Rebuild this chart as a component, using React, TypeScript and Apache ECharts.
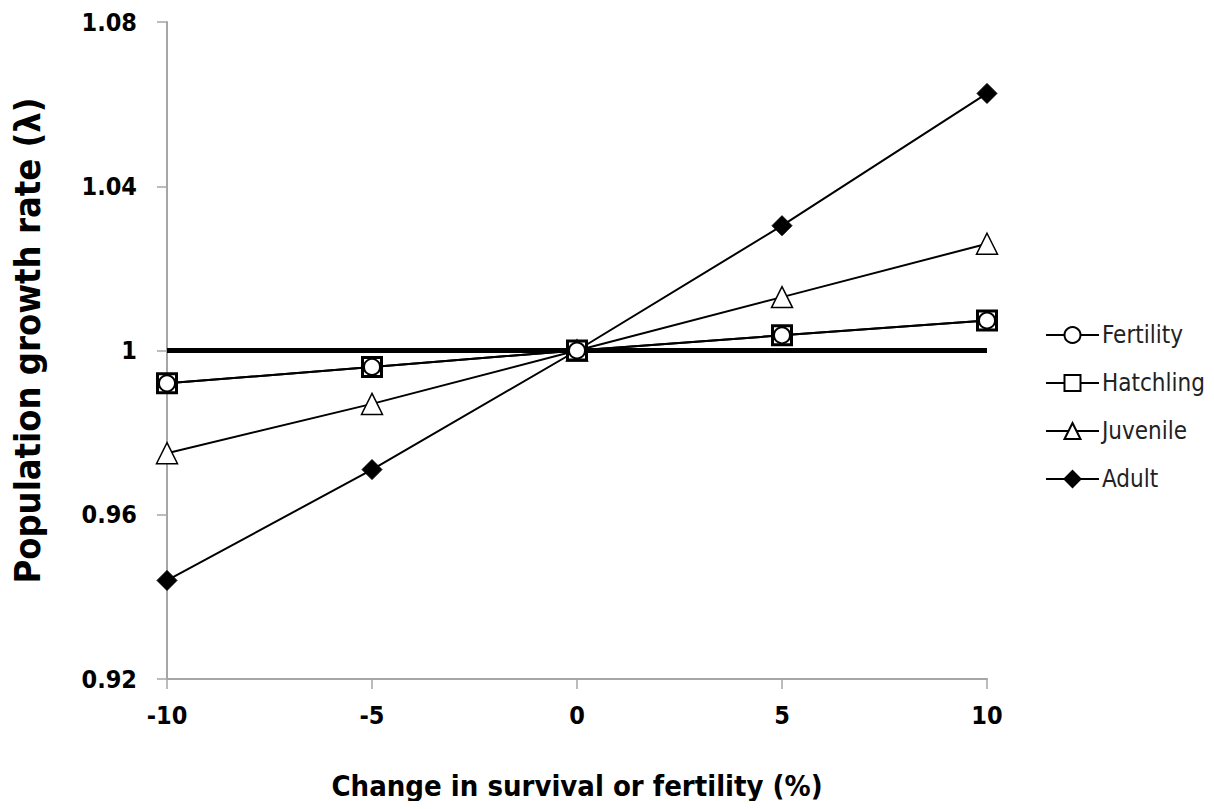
import React, { useEffect, useRef } from "react";
import * as echarts from "echarts";

const xValues = [-10, -5, 0, 5, 10];
const fertility = [0.992, 0.996, 1.0, 1.0037, 1.0073];
const hatchling = [0.992, 0.996, 1.0, 1.0037, 1.0073];
const juvenile = [0.975, 0.987, 1.0, 1.013, 1.026];
const adult = [0.944, 0.971, 1.0, 1.0304, 1.0626];
const refLine = [
  [-10, 1],
  [10, 1],
];

const FONT = "'DejaVu Sans Condensed', 'DejaVu Sans', sans-serif";

const pair = (ys: number[]) => xValues.map((x, i) => [x, ys[i]]);

export default function App() {
  const ref = useRef<HTMLDivElement>(null);
  useEffect(() => {
    if (!ref.current) return;
    const chart = echarts.init(ref.current, undefined, { renderer: "svg" });
    const common = {
      type: "line",
      lineStyle: { color: "#000", width: 2 },
      symbolSize: 20,
    };
    chart.setOption({
      animation: false,
      backgroundColor: "#fff",
      grid: { left: 167, right: 227, top: 22, bottom: 130 },
      xAxis: {
        type: "value",
        min: -10,
        max: 10,
        interval: 5,
        splitLine: { show: false },
        axisLine: { onZero: false, lineStyle: { color: "#a6a6a6", width: 2 } },
        axisTick: { show: true, length: 10, lineStyle: { color: "#a6a6a6", width: 1.5 } },
        axisLabel: { color: "#000", fontSize: 25, fontWeight: "bold", fontFamily: FONT, margin: 24 },
        name: "Change in survival or fertility (%)",
        nameLocation: "middle",
        nameGap: 92,
        nameTextStyle: { color: "#000", fontSize: 29, fontWeight: "bold", fontFamily: FONT },
      },
      yAxis: {
        type: "value",
        min: 0.92,
        max: 1.08,
        interval: 0.04,
        splitLine: { show: false },
        axisLine: { show: true, onZero: false, lineStyle: { color: "#a6a6a6", width: 2 } },
        axisTick: { show: true, length: 10, lineStyle: { color: "#a6a6a6", width: 1.5 } },
        axisLabel: {
          color: "#000",
          fontSize: 25,
          fontWeight: "bold",
          fontFamily: FONT,
          margin: 30,
          formatter: (v: number) => String(parseFloat(v.toFixed(2))),
        },
        name: "Population growth rate (λ)",
        nameLocation: "middle",
        nameGap: 122,
        nameTextStyle: { color: "#000", fontSize: 36, fontWeight: "bold", fontFamily: FONT, padding: [0, 0, 0, 20] },
      },
      legend: {
        orient: "vertical",
        left: 1040,
        top: 318,
        itemWidth: 53,
        itemHeight: 20,
        itemGap: 24,
        textStyle: { color: "#222", fontSize: 24, fontFamily: FONT, padding: [0, 0, 0, -2] },
        data: ["Fertility", "Hatchling", "Juvenile", "Adult"],
      },
      series: [
        {
          name: "ref",
          type: "line",
          data: refLine,
          symbol: "none",
          lineStyle: { color: "#000", width: 5 },
          z: 1,
        },
        {
          ...common,
          name: "Adult",
          data: pair(adult),
          symbol: "diamond",
          itemStyle: { color: "#000", borderColor: "#000", borderWidth: 1 },
          z: 2,
        },
        {
          ...common,
          name: "Juvenile",
          data: pair(juvenile),
          symbol: "triangle",
          symbolSize: 21,
          itemStyle: { color: "#fff", borderColor: "#000", borderWidth: 1.5 },
          z: 3,
        },
        {
          ...common,
          name: "Hatchling",
          data: pair(hatchling),
          symbol: "rect",
          symbolSize: 19,
          itemStyle: { color: "#fff", borderColor: "#000", borderWidth: 3 },
          z: 4,
        },
        {
          ...common,
          name: "Fertility",
          data: pair(fertility),
          symbol: "circle",
          symbolSize: 16,
          itemStyle: { color: "#fff", borderColor: "#000", borderWidth: 2 },
          z: 5,
        },
      ],
    });
    return () => chart.dispose();
  }, []);
  return <div ref={ref} style={{ width: 1214, height: 809, margin: -8 }} />;
}
